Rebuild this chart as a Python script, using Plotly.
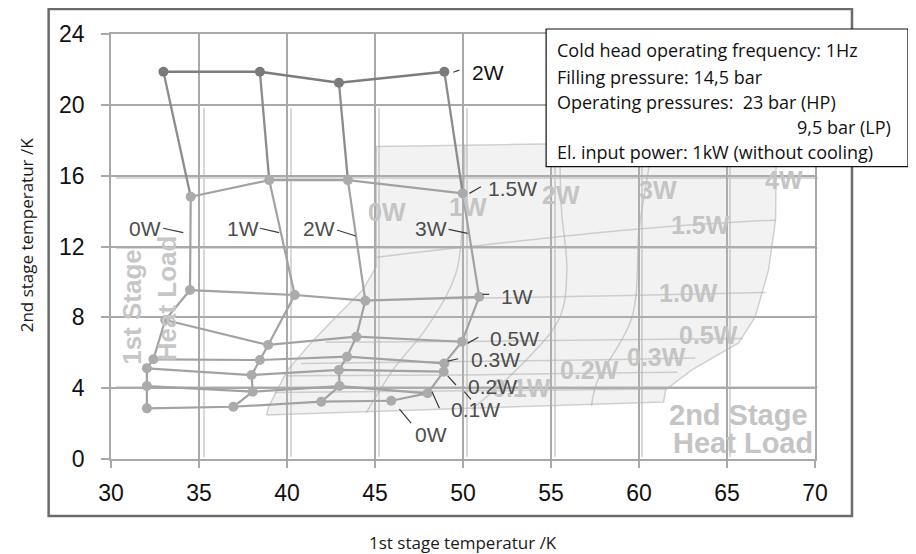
import plotly.graph_objects as go

# ---------------- data ----------------
stage1_loads = ["0W", "1W", "2W", "3W"]                       # 1st stage heat load (columns)
stage2_loads = ["0W", "0.1W", "0.2W", "0.3W", "0.5W", "1W", "1.5W", "2W"]  # 2nd stage heat load (rows)

# 1st stage temperature [K] for each 2nd-stage load row (order: 1st stage 0W,1W,2W,3W)
t1_0W = [32.04, 36.95, 41.95, 45.92]
t1_01W = [32.04, 38.05, 42.99, 47.99]
t1_02W = [32.04, 37.99, 42.95, 48.90]
t1_03W = [32.41, 38.46, 43.41, 48.94]
t1_05W = [33.08, 38.93, 43.94, 49.94]
t1_1W = [34.49, 40.44, 44.45, 50.92]
t1_15W = [34.53, 38.99, 43.46, 49.98]
t1_2W = [32.98, 38.46, 42.95, 48.94]

# 2nd stage temperature [K]
t2_0W = [2.86, 2.95, 3.24, 3.29]
t2_01W = [4.12, 3.80, 4.12, 3.71]
t2_02W = [5.12, 4.74, 5.03, 4.93]
t2_03W = [5.63, 5.59, 5.78, 5.40]
t2_05W = [7.85, 6.44, 6.91, 6.62]
t2_1W = [9.54, 9.26, 8.94, 9.16]
t2_15W = [14.81, 15.75, 15.75, 15.00]
t2_2W = [21.87, 21.87, 21.25, 21.87]

T1_ROWS = [t1_0W, t1_01W, t1_02W, t1_03W, t1_05W, t1_1W, t1_15W, t1_2W]
T2_ROWS = [t2_0W, t2_01W, t2_02W, t2_03W, t2_05W, t2_1W, t2_15W, t2_2W]

x_ticks = [30, 35, 40, 45, 50, 55, 60, 65, 70]
y_ticks = [0, 4, 8, 12, 16, 20, 24]

# label positions (data units)
row_label_text = ["2W", "1.5W", "1W", "0.5W", "0.3W", "0.2W", "0.1W", "0W"]
row_label_x = [50.37, 51.30, 52.06, 51.43, 50.36, 50.17, 49.22, 47.15]
row_label_y = [21.84, 15.29, 9.16, 6.81, 5.63, 4.12, 2.81, 1.36]
col_label_text = ["0W", "1W", "2W", "3W"]
col_label_x = [30.92, 36.48, 40.82, 47.14]
col_label_y = [13.03, 13.03, 13.03, 13.03]

leader_x0 = [49.45, 50.36, 51.11, 50.26, 49.13, 49.13, 50.07, 48.24, 46.39, 32.96, 38.46, 42.84, 49.18]
leader_y0 = [21.84, 15.00, 9.30, 6.53, 5.53, 4.69, 3.80, 3.80, 2.81, 13.03, 13.03, 12.93, 12.97]
leader_x1 = [49.79, 51.02, 51.49, 50.87, 49.73, 49.60, 50.45, 48.66, 47.05, 34.11, 39.55, 43.90, 50.26]
leader_y1 = [21.96, 15.38, 9.30, 6.87, 5.66, 4.18, 3.37, 2.86, 2.02, 12.78, 12.78, 12.59, 12.74]

# faded background load map (overlay image)
ov_fill_x = [38.84, 38.96, 40.02, 41.51, 43.0, 44.3, 45.07, 45.07, 52.0, 58.0, 63.0, 67.8,
             67.8, 67.76, 67.36, 66.6, 65.66, 63.0, 61.51, 61.4, 50.0, 38.84]
ov_fill_y = [2.48, 2.96, 5.02, 6.72, 8.24, 9.54, 10.87, 17.65, 17.75, 17.85, 17.9, 17.8,
             15.92, 13.5, 10.67, 8.02, 6.55, 5.03, 3.9, 3.22, 2.85, 2.48]
ov_s2_lines_x = [[45.1, 59.8, 67.76], [44.0, 52.0, 60.0, 67.2], [42.2, 52.0, 60.0, 65.9],
                 [40.8, 50.0, 58.0, 63.2], [40.0, 50.0, 58.0, 62.2], [39.3, 50.0, 61.6]]
ov_s2_lines_y = [[11.4, 12.97, 13.5], [8.95, 9.1, 9.25, 9.4], [6.6, 6.65, 6.75, 6.8],
                 [5.4, 5.5, 5.6, 5.7], [4.7, 4.75, 4.85, 4.9], [3.75, 3.85, 3.95]]
ov_s1_lines_x = [[44.5, 46.0, 48.0, 49.6, 50.0, 50.1], [50.5, 53.5, 55.5, 55.9, 55.6, 55.5],
                 [57.3, 57.6, 59.6, 60.0, 60.4, 60.8]]
ov_s1_lines_y = [[2.6, 5.0, 7.5, 10.5, 14.0, 17.7], [2.8, 5.5, 8.0, 10.7, 14.0, 17.8],
                 [3.0, 4.3, 8.0, 12.9, 15.5, 17.9]]
ov_label_text = ["0W", "1W", "2W", "3W", "4W", "1.5W", "1.0W", "0.5W", "0.3W", "0.2W", "0.1W"]
ov_label_x = [45.66, 50.30, 55.55, 61.07, 68.26, 63.48, 62.82, 63.96, 60.98, 57.20, 53.3]
ov_label_y = [13.96, 14.25, 14.90, 15.19, 15.75, 13.21, 9.36, 7.00, 5.78, 5.03, 4.0]

info_lines = ["Cold head operating frequency: 1Hz",
              "Filling pressure: 14,5 bar",
              "Operating pressures:\u00a0\u00a023 bar (HP)",
              "9,5 bar (LP)",
              "El. input power: 1kW (without cooling)"]

# ---------------- figure ----------------
fig = go.Figure()

# overlay subplot (x/y) only carries the faded grid of the background picture
fig.add_trace(go.Scatter(x=[None], y=[None], xaxis="x", yaxis="y", showlegend=False, hoverinfo="skip"))

# faded load map region
fig.add_trace(go.Scatter(x=ov_fill_x, y=ov_fill_y, xaxis="x2", yaxis="y2", mode="lines",
                         fill="toself", fillcolor="rgba(190,190,190,0.2)",
                         line=dict(color="rgba(175,175,175,0.55)", width=1.5),
                         showlegend=False, hoverinfo="skip"))
for xs, ys in zip(ov_s2_lines_x + ov_s1_lines_x, ov_s2_lines_y + ov_s1_lines_y):
    fig.add_trace(go.Scatter(x=xs, y=ys, xaxis="x2", yaxis="y2", mode="lines",
                             line=dict(color="rgba(175,175,175,0.55)", width=1.5, shape="spline"),
                             showlegend=False, hoverinfo="skip"))

# columns (constant 1st stage load)
for j in range(len(stage1_loads)):
    xs = [row[j] for row in T1_ROWS]
    ys = [row[j] for row in T2_ROWS]
    fig.add_trace(go.Scatter(x=xs[:-1], y=ys[:-1], xaxis="x2", yaxis="y2", mode="lines",
                             line=dict(color="#a2a2a2", width=2.2), showlegend=False, hoverinfo="skip"))
    fig.add_trace(go.Scatter(x=xs[-2:], y=ys[-2:], xaxis="x2", yaxis="y2", mode="lines",
                             line=dict(color="#8c8c8c", width=2.3), showlegend=False, hoverinfo="skip"))

# rows (constant 2nd stage load)
for i, name in enumerate(stage2_loads):
    top = name == "2W"
    fig.add_trace(go.Scatter(x=T1_ROWS[i], y=T2_ROWS[i], xaxis="x2", yaxis="y2", mode="lines+markers",
                             line=dict(color="#7c7c7c" if top else "#a2a2a2", width=2.6 if top else 2.2),
                             marker=dict(size=10, color="#7a7a7a" if top else "#ababab"),
                             name=name, showlegend=False))

# leader lines
lx, ly = [], []
for a, b, c, d in zip(leader_x0, leader_y0, leader_x1, leader_y1):
    lx += [a, c, None]
    ly += [b, d, None]
fig.add_trace(go.Scatter(x=lx, y=ly, xaxis="x2", yaxis="y2", mode="lines",
                         line=dict(color="#3a3a3a", width=1.2), showlegend=False, hoverinfo="skip"))

ann = []
# faded overlay labels
for t, x, y in zip(ov_label_text, ov_label_x, ov_label_y):
    ann.append(dict(text="<b>%s</b>" % t, x=x, y=y, xref="x2", yref="y2", showarrow=False,
                    xanchor="center", yanchor="middle",
                    font=dict(family="Liberation Sans", size=25, color="#c4c4c4")))
ann.append(dict(text="<b>1st Stage</b>", x=(131 - 110.7) / 17.61 + 30, y=(459 - 306.5) / 17.71,
                xref="x2", yref="y2", showarrow=False, textangle=-90, xanchor="center", yanchor="middle",
                font=dict(family="Liberation Sans", size=26, color="#c6c6c6")))
ann.append(dict(text="<b>Heat Load</b>", x=(166.5 - 110.7) / 17.61 + 30, y=(459 - 298.5) / 17.71,
                xref="x2", yref="y2", showarrow=False, textangle=-90, xanchor="center", yanchor="middle",
                font=dict(family="Liberation Sans", size=26, color="#c6c6c6")))
ann.append(dict(text="<b>2nd Stage</b>", x=69.7, y=(459 - 415) / 17.71, xref="x2", yref="y2",
                showarrow=False, xanchor="right", yanchor="middle",
                font=dict(family="Liberation Sans", size=29, color="#c4c4c4")))
ann.append(dict(text="<b>Heat Load</b>", x=69.98, y=(459 - 443) / 17.71, xref="x2", yref="y2",
                showarrow=False, xanchor="right", yanchor="middle",
                font=dict(family="Liberation Sans", size=29, color="#c4c4c4")))

# mesh labels
for t, x, y in zip(row_label_text, row_label_x, row_label_y):
    ann.append(dict(text=t, x=x, y=y, xref="x2", yref="y2", showarrow=False, xanchor="left", yanchor="middle",
                    font=dict(family="Liberation Sans", size=21,
                              color="#111111" if t == "2W" and y > 20 else "#4d4d4d")))
for t, x, y in zip(col_label_text, col_label_x, col_label_y):
    ann.append(dict(text=t, x=x, y=y, xref="x2", yref="y2", showarrow=False, xanchor="left", yanchor="middle",
                    font=dict(family="Liberation Sans", size=21, color="#4d4d4d")))

# reference-pixel helpers (plot area: x 110.7..817.9, y 34..459 in the reference picture)
PW, L = 707.3, 110.7
def px(v):
    return (v - L) / PW
def py(v):
    return (459 - v) / 425.0

info_y = [50, 76.5, 102.5, 127, 151.7]
for k, (t, yy) in enumerate(zip(info_lines, info_y)):
    if k == 3:
        ann.append(dict(text=t, x=px(893), y=py(yy), xref="paper", yref="paper", showarrow=False,
                        xanchor="right", yanchor="middle",
                        font=dict(family="Open Sans", size=18, color="#111")))
    else:
        ann.append(dict(text=t, x=px(555), y=py(yy), xref="paper", yref="paper", showarrow=False,
                        xanchor="left", yanchor="middle",
                        font=dict(family="Open Sans", size=18, color="#111")))

# axis titles
ann.append(dict(text="2nd stage temperatur /K", x=px(27), y=py(235), xref="paper", yref="paper",
                showarrow=False, textangle=-90, xanchor="center", yanchor="middle",
                font=dict(family="Open Sans", size=17, color="#1a1a1a")))
ann.append(dict(text="1st stage temperatur /K", x=px(463), y=py(542), xref="paper", yref="paper",
                showarrow=False, xanchor="center", yanchor="middle",
                font=dict(family="Open Sans", size=17, color="#1a1a1a")))

shapes = [
    dict(type="rect", xref="paper", yref="paper", x0=px(48.3), x1=px(852), y0=py(516), y1=py(9),
         line=dict(color="#6b6b6b", width=2.5), layer="below"),
    dict(type="rect", xref="paper", yref="paper", x0=px(546), x1=px(908), y0=py(166.7), y1=py(29),
         line=dict(color="#111", width=1.2), fillcolor="white", layer="above"),
]

# the page shows the figure with an 8px body margin, so the figure is shifted accordingly
OFF = 8
FW, FH = 916 - OFF, 554 - OFF
grid_main = "#a9a9a9"
fig.update_layout(
    width=FW, height=FH, autosize=False,
    margin=dict(l=L - OFF, r=FW - (L - OFF) - PW, t=34 - OFF, b=FH - (459 - OFF), pad=0),
    paper_bgcolor="white", plot_bgcolor="rgba(0,0,0,0)",
    showlegend=False,
    annotations=ann, shapes=shapes,
    xaxis=dict(domain=[px(115.5), 1.0], range=[30, 70], tickvals=x_ticks, showticklabels=False,
               showgrid=True, gridcolor="#d8d8d8", gridwidth=1.5, zeroline=False, showline=False,
               ticks="", anchor="y", fixedrange=True),
    yaxis=dict(domain=[py(457), py(108)], range=[0, 20], tickvals=y_ticks[:-1], showticklabels=False,
               showgrid=True, gridcolor="#d8d8d8", gridwidth=1.5, zeroline=False, showline=False,
               ticks="", anchor="x", fixedrange=True),
    xaxis2=dict(domain=[0, px(815)], range=[30, 70], tickvals=x_ticks, anchor="y2",
                showgrid=True, gridcolor=grid_main, gridwidth=1.5, zeroline=False,
                showline=True, linecolor=grid_main, linewidth=1.5, mirror=True,
                ticks="outside", ticklen=7, tickwidth=1.5, tickcolor=grid_main,
                ticklabelstandoff=6,
                tickfont=dict(family="Liberation Sans", size=23, color="#111")),
    yaxis2=dict(domain=[0, 1], range=[0, 24], tickvals=y_ticks, anchor="x2",
                showgrid=True, gridcolor=grid_main, gridwidth=1.5, zeroline=False,
                showline=True, linecolor=grid_main, linewidth=1.5, mirror=True,
                ticks="outside", ticklen=8, tickwidth=1.5, tickcolor=grid_main,
                ticklabelstandoff=12,
                tickfont=dict(family="Liberation Sans", size=23, color="#111")),
)

fig.write_html("out.html")
